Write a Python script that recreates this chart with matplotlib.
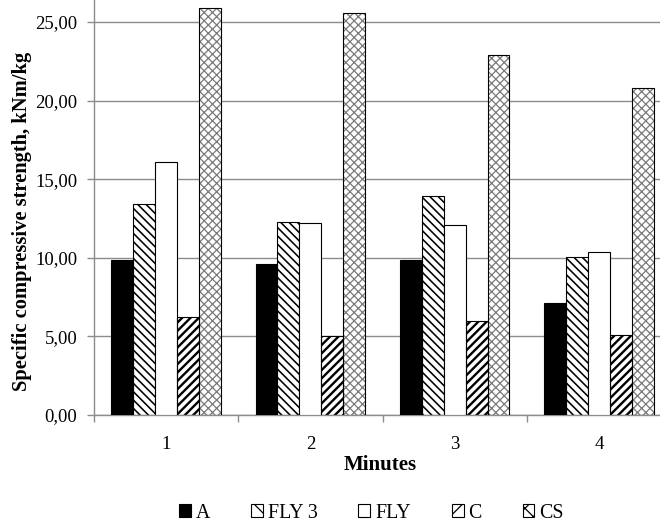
import matplotlib
matplotlib.use("Agg")
import matplotlib.pyplot as plt
import numpy as np
from matplotlib.patches import Patch
from matplotlib.ticker import FixedLocator, FuncFormatter

# Data: specific compressive strength per mixture and mixing time
minutes = ["1", "2", "3", "4"]
series_names = ["A", "FLY 3", "FLY", "C", "CS"]
A = [9.85, 9.62, 9.85, 7.15]
FLY3 = [13.4, 12.3, 13.95, 10.05]
FLY = [16.1, 12.2, 12.1, 10.4]
C = [6.22, 5.0, 5.95, 5.1]
CS = [25.9, 25.55, 22.9, 20.8]
y_ticks = [0, 5, 10, 15, 20, 25]

plt.rcParams["font.family"] = ["Liberation Serif", "DejaVu Serif"]
plt.rcParams["hatch.linewidth"] = 1.0

fig = plt.figure(figsize=(6.6, 5.25), dpi=100)
ax = fig.add_axes([94 / 660, 110 / 525, 577 / 660, 471.6 / 525])

x = np.arange(len(minutes))
w = 0.152
grid_gray = "#8c8c8c"

styles = [
    dict(facecolor="black", hatch=None, hlw=1.0, hcolor="black"),
    dict(facecolor="white", hatch="\\\\\\\\", hlw=1.15, hcolor="black"),
    dict(facecolor="white", hatch=None, hlw=1.0, hcolor="black"),
    dict(facecolor="white", hatch="////", hlw=1.7, hcolor="black"),
    dict(facecolor="white", hatch="xxxx", hlw=0.9, hcolor="#7a7a7a"),
]
values = [A, FLY3, FLY, C, CS]

handles = []
for i, (vals, st) in enumerate(zip(values, styles)):
    pos = x + (i - 2) * w
    plt.rcParams["hatch.linewidth"] = st["hlw"]
    if st["hatch"]:
        hb = ax.bar(pos, vals, width=w, facecolor=st["facecolor"],
                    edgecolor=st["hcolor"], hatch=st["hatch"], linewidth=0,
                    zorder=2)
        for p in hb:
            if hasattr(p, "set_hatch_linewidth"):
                p.set_hatch_linewidth(st["hlw"])
        ax.bar(pos, vals, width=w, fill=False, edgecolor="black",
               linewidth=0.8, zorder=3)
    else:
        ax.bar(pos, vals, width=w, facecolor=st["facecolor"],
               edgecolor="black", linewidth=0.8, zorder=3)
    h = Patch(facecolor=st["facecolor"], edgecolor="black",
              hatch=(st["hatch"][:2] if st["hatch"] else None), linewidth=0.8)
    handles.append(h)

ax.set_xlim(-0.5, len(minutes) - 0.5)
ax.set_ylim(0, 30)
ax.yaxis.set_major_locator(FixedLocator(y_ticks))
ax.yaxis.set_major_formatter(FuncFormatter(lambda v, _: f"{v:.2f}".replace(".", ",")))
ax.grid(axis="y", color=grid_gray, linewidth=1.0, zorder=0)
ax.set_axisbelow(True)

ax.set_xticks(x)
ax.set_xticklabels(minutes)
ax.set_xticks(np.arange(len(minutes) + 1) - 0.5, minor=True)
ax.tick_params(axis="x", which="major", length=0, pad=15, labelsize=13.5)
ax.tick_params(axis="x", which="minor", length=5, color=grid_gray, width=1.0)
ax.tick_params(axis="y", length=5, color=grid_gray, width=1.0, pad=7, labelsize=13.5)

for s in ["top", "right"]:
    ax.spines[s].set_visible(False)
for s in ["left", "bottom"]:
    ax.spines[s].set_color(grid_gray)
    ax.spines[s].set_linewidth(1.0)

fig.text(22 / 660, 1 - 221 / 525, "Specific compressive strength, kNm/kg",
         rotation=90, ha="center", va="center", fontsize=14.8, fontweight="bold")
fig.text(380 / 660, 1 - 465 / 525, "Minutes", ha="center", va="center",
         fontsize=15, fontweight="bold")

fig.legend(handles, series_names, loc="center", ncol=5,
           bbox_to_anchor=(371.5 / 660, 1 - 513 / 525), frameon=False,
           fontsize=14.3, handlelength=0.6, handleheight=0.6,
           handletextpad=0.25, columnspacing=2.05, borderpad=0)

fig.savefig("out.png", dpi=100)
